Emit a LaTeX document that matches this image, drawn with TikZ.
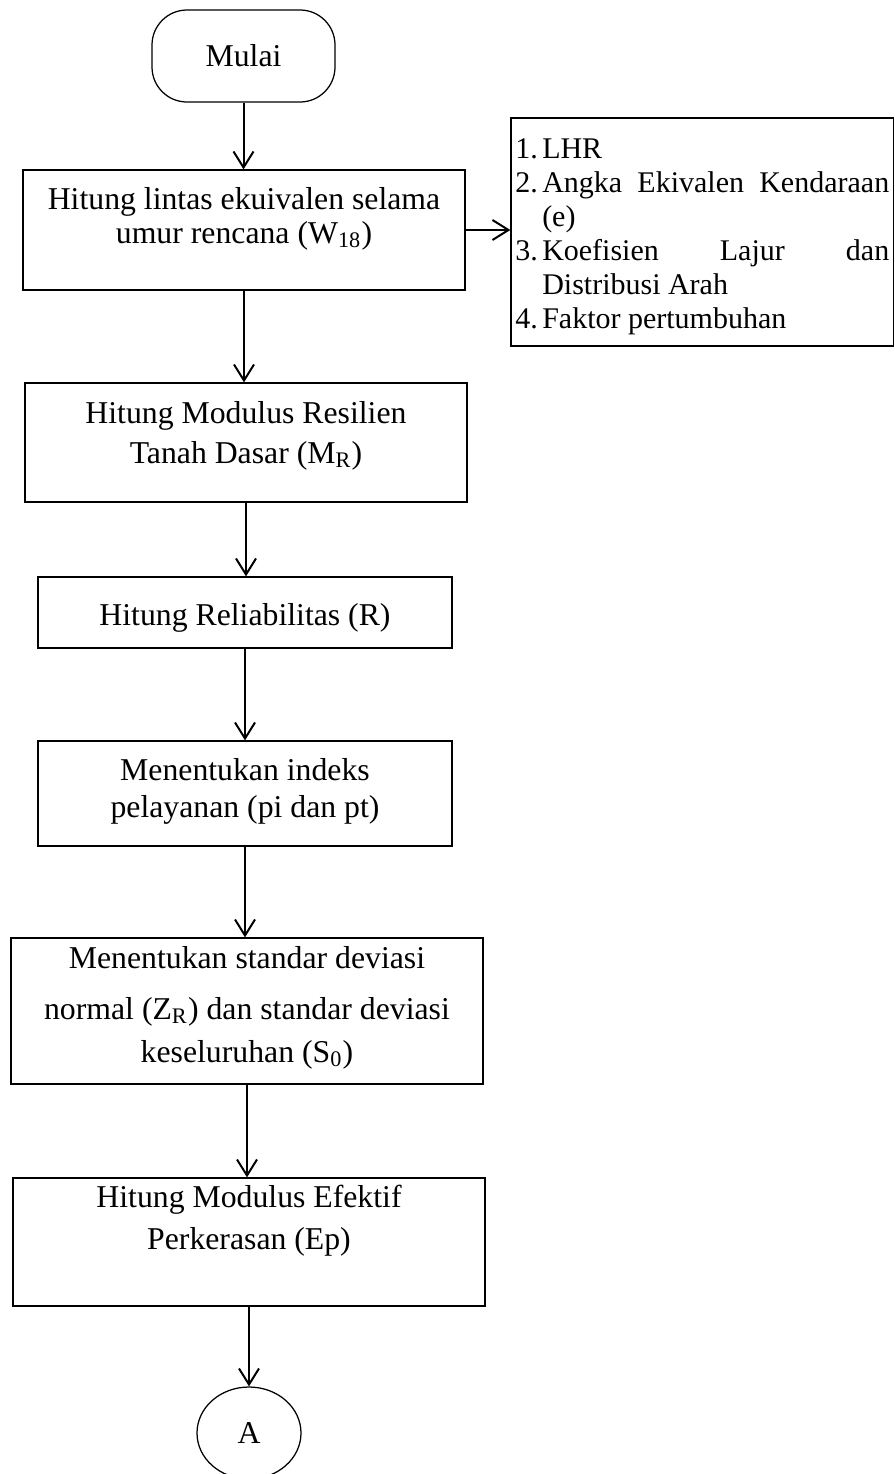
\documentclass[tikz,border=0pt]{standalone}
\usepackage{fontspec}
\setmainfont{Liberation Serif}
\usepackage{tikz}
\usetikzlibrary{arrows.meta,shapes.geometric}

\newcommand{\butir}[2]{\noindent\hangindent=10.8pt\hangafter=1\makebox[10.8pt][l]{#1}#2\par}

\begin{document}
\begin{tikzpicture}[x=0.4pt, y=-0.4pt,
  every node/.style={font=\fontsize{12.7}{13.6}\selectfont, inner sep=0pt},
  kotak/.style={draw, line width=0.5pt, align=center},
  terminal/.style={draw, line width=0.5pt, rounded corners=14pt, minimum width=73.2pt, minimum height=36.8pt},
  konektor/.style={draw, line width=0.5pt, ellipse, minimum width=41.6pt, minimum height=36.8pt},
  panah/.style={-{Straight Barb[length=6.4pt,width=8pt]}, line width=0.8pt}]
\useasboundingbox (0,0) rectangle (894,1474);

\node[terminal] (mulai) at (243.5,56) {Mulai};
\node[kotak, minimum width=176.8pt, text height=29.2pt, text depth=18.8pt] (w18) at (244,230)
  {Hitung lintas ekuivalen selama\\umur rencana (W\textsubscript{18})};
\node[kotak, minimum width=176.8pt, text height=32pt, text depth=15.6pt, font=\fontsize{12.7}{16}\selectfont] (mr) at (246,442.5)
  {Hitung Modulus Resilien\\Tanah Dasar (M\textsubscript{R})};
\node[kotak, minimum width=165.6pt, text height=19.2pt, text depth=9.2pt] (rel) at (245,612.5)
  {Hitung Reliabilitas (R)};
\node[kotak, minimum width=165.6pt, text height=30.4pt, text depth=11.6pt, font=\fontsize{12.7}{14.8}\selectfont] (indeks) at (245,793.5)
  {Menentukan indeks\\pelayanan (pi dan pt)};
\node[kotak, minimum width=188.8pt, text height=49.6pt, text depth=8.8pt] (dev) at (247,1011)
  {Menentukan standar deviasi\\[6.8pt]normal (Z\textsubscript{R}) dan standar deviasi\\[3.6pt]keseluruhan (S\textsubscript{0})};
\node[kotak, minimum width=188.8pt, text height=28.4pt, text depth=22.8pt, font=\fontsize{12.7}{16.8}\selectfont] (ep) at (249,1242)
  {Hitung Modulus Efektif\\Perkerasan (Ep)};
\node[konektor] (a) at (249,1433) {A};

% data masukan lalu lintas
\node[draw, line width=0.5pt, text width=149.6pt, inner xsep=1.7pt, text height=16pt, text depth=75.2pt, align=justify, font=\fontsize{12}{13.6}\selectfont] (data) at (702.25,232)
  {\hyphenpenalty=10000\tolerance=10000\hbadness=10000
   \butir{1.}{LHR}
   \butir{2.}{Angka Ekivalen Kendaraan (e)}
   \butir{3.}{Koefisien Lajur dan Distribusi Arah}
   \butir{4.}{Faktor pertumbuhan}};

\draw[panah] (mulai.south) -- (mulai.south |- w18.north);
\draw[panah] (w18.south) -- (w18.south |- mr.north);
\draw[panah] (mr.south) -- (mr.south |- rel.north);
\draw[panah] (rel.south) -- (rel.south |- indeks.north);
\draw[panah] (indeks.south) -- (indeks.south |- dev.north);
\draw[panah] (dev.south) -- (dev.south |- ep.north);
\draw[panah] (ep.south) -- (ep.south |- a.north);
\draw[panah] (w18.east) -- (w18.east -| data.west);
\end{tikzpicture}
\end{document}
